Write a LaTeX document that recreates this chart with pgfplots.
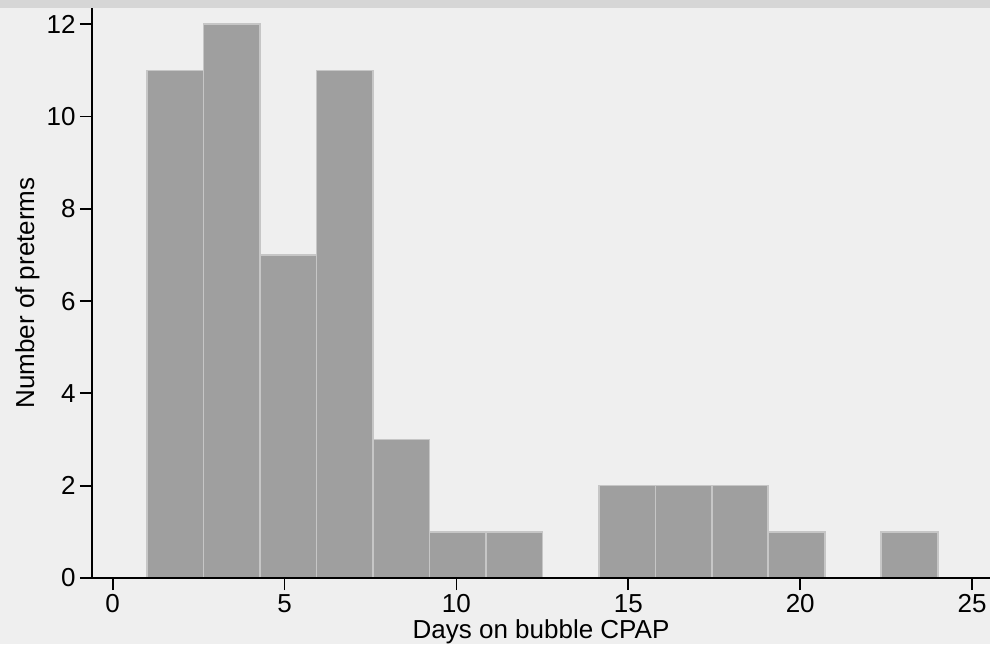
\documentclass[border=0pt]{standalone}
\usepackage{fontspec}
\setmainfont{Liberation Sans}
\usepackage{pgfplots}
\pgfplotsset{compat=1.18}
\definecolor{bg}{HTML}{EFEFEF}
\definecolor{topband}{HTML}{D6D6D6}
\definecolor{barfill}{HTML}{9F9F9F}
\definecolor{baredge}{HTML}{C6C6C6}
\begin{document}
\begin{tikzpicture}
\fill[bg] (0,0) rectangle (495pt,322pt);
\fill[topband] (0,318pt) rectangle (495pt,322pt);
\useasboundingbox (0,0) rectangle (495pt,322pt);
\begin{axis}[
  at={(46pt,33pt)}, anchor=south west,
  scale only axis, width=449pt, height=285pt,
  xmin=-0.6, xmax=25.52, ymin=0, ymax=12.35,
  axis x line*=bottom, axis y line*=left,
  axis line style={line width=0.9pt, black},
  xtick={0,5,...,25}, ytick={0,2,...,12},
  tick align=outside, major tick length=6pt,
  tick style={line width=0.9pt, black},
  minor tick num=0,
  xlabel={Days on bubble CPAP}, ylabel={Number of preterms},
  tick label style={font=\fontsize{13}{15}\selectfont},
  label style={font=\fontsize{13}{15}\selectfont},
  yticklabel style={inner sep=0pt, xshift=-2pt},
  xticklabel style={inner sep=0pt, yshift=-2pt},
  xlabel style={inner sep=0pt, yshift=-3pt},
  /pgf/number format/assume math mode=true,
  axis on top,
]
\addplot[ybar interval, fill=barfill, draw=baredge, line width=0.8pt] coordinates {
(1,11) (2.643,12) (4.286,7) (5.929,11) (7.571,3) (9.214,1) (10.857,1)
(12.5,0) (14.143,2) (15.786,2) (17.429,2) (19.071,1) (20.714,0) (22.357,1) (24,0)
};
\end{axis}
\end{tikzpicture}
\end{document}
